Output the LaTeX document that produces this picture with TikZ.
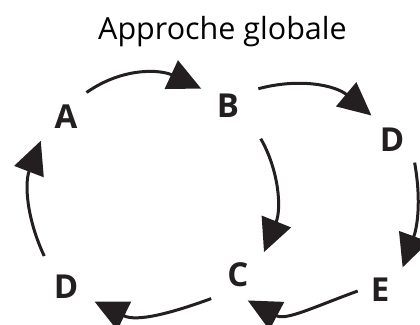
\documentclass[tikz,border=0pt]{standalone}
\usepackage{fontspec}
\setmainfont{Open Sans}
\usetikzlibrary{arrows.meta}
\definecolor{ink}{RGB}{35,31,32}
\begin{document}
\begin{tikzpicture}[x=1pt, y=1pt,
    letter/.style={circle, minimum size=64pt, inner sep=0pt, outer sep=0pt,
        text=ink, font=\fontsize{33}{33}\selectfont\bfseries},
    flow/.style={draw=ink, line width=3pt, -{Triangle[length=33pt, width=31pt]}}]

    \clip (0,0) rectangle (420,324);

    % Title
    \node (title) [anchor=base, font=\fontsize{30.5}{31}\selectfont] at (222.5,284) {Approche globale};

    % Left loop
    \node (A) [letter] at (66,207) {A};
    \node (B) [letter] at (228,218) {B};
    \node (C) [letter] at (238,49) {C};
    \node (Dl) [letter] at (66,37) {D};

    % Right loop
    \node (Dr) [letter] at (392,184) {D};
    \node (E) [letter] at (380,34) {E};

    % Arrows of the left loop
    \draw[flow] (A.50) to[out=35, in=155] (B.147);
    \draw[flow, shorten <=15pt, shorten >=3pt] (B.-38) to[out=-60, in=68] (C.39);
    \draw[flow, shorten <=4pt] (C.224) to[out=200, in=-26] (Dl.-27);
    \draw[flow, shorten <=6pt, shorten >=3pt] (Dl.127) to[out=115, in=-111] (A.221);

    % Arrows of the right loop
    \draw[flow, shorten <=3pt] (B.31) to[out=15, in=140] (Dr.130);
    \draw[flow] (Dr.-45) to[out=-80, in=70] (E.45);
    \draw[flow, shorten <=-10pt, shorten >=-6pt] (E.188) to[out=200, in=-28] (C.-62);

\end{tikzpicture}
\end{document}
